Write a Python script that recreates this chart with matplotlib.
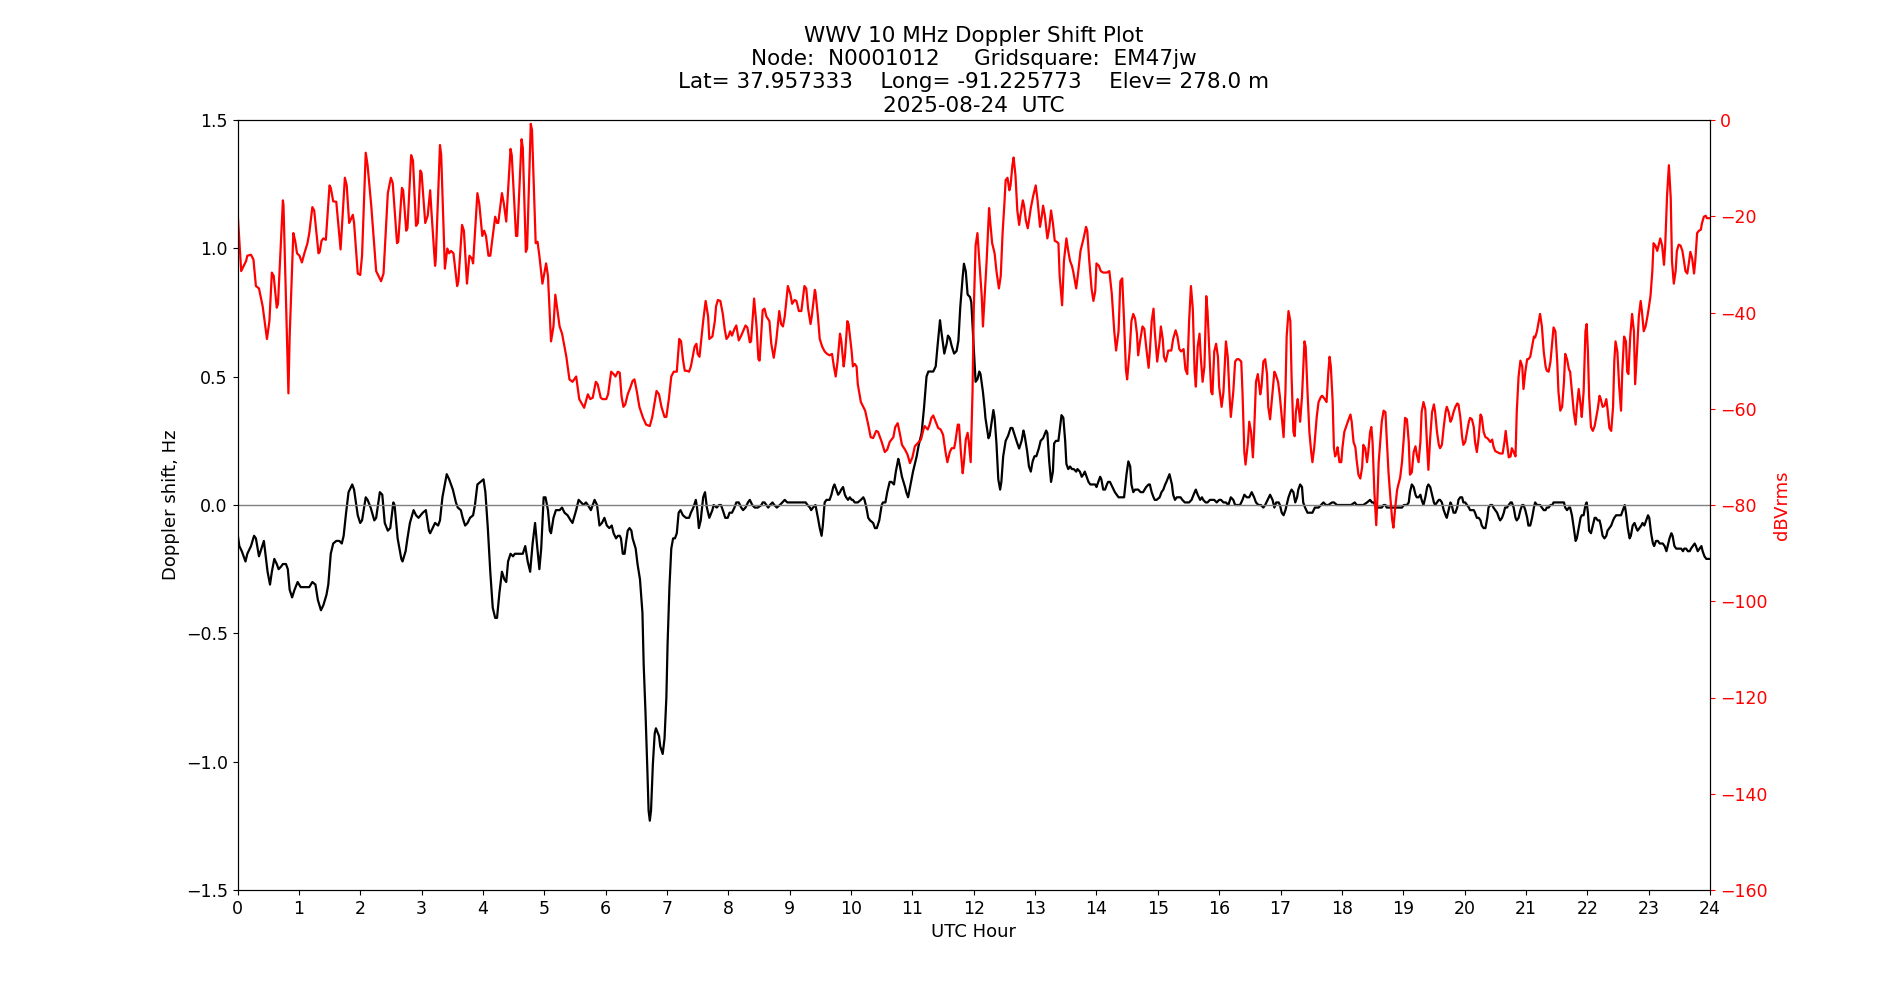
import numpy as np
import matplotlib
matplotlib.use("Agg")
import matplotlib.pyplot as plt

# Doppler shift (Hz) vs UTC hour
dop_hours = [
    0.00, 0.03, 0.07, 0.13, 0.16, 0.22, 0.27, 0.30, 0.35, 0.39, 0.43, 0.45, 0.49, 0.53, 0.56, 0.60, 0.64, 0.67, 0.71, 0.74,
    0.79, 0.82, 0.85, 0.89, 0.93, 0.98, 1.03, 1.12, 1.17, 1.22, 1.27, 1.31, 1.36, 1.40, 1.45, 1.48, 1.52, 1.56, 1.61, 1.66,
    1.70, 1.73, 1.77, 1.81, 1.87, 1.90, 1.96, 2.00, 2.03, 2.09, 2.12, 2.17, 2.23, 2.26, 2.32, 2.36, 2.40, 2.45, 2.49, 2.54,
    2.56, 2.61, 2.67, 2.69, 2.74, 2.77, 2.81, 2.87, 2.91, 2.95, 3.02, 3.07, 3.12,
    3.14, 3.18, 3.22, 3.27, 3.30, 3.34, 3.41, 3.45, 3.51, 3.56, 3.59, 3.64, 3.67, 3.71, 3.75, 3.79, 3.84, 3.87, 3.91, 3.96,
    4.01, 4.04, 4.08, 4.12, 4.16, 4.20, 4.23, 4.27, 4.31, 4.35, 4.38, 4.41, 4.45, 4.49, 4.52, 4.57, 4.61, 4.65, 4.69, 4.73,
    4.77, 4.81, 4.85, 4.88, 4.92, 4.95, 4.99, 5.02, 5.06, 5.09, 5.11, 5.15, 5.19, 5.25, 5.29, 5.33, 5.38, 5.43, 5.46, 5.52,
    5.56, 5.60, 5.64, 5.68, 5.71, 5.76, 5.82, 5.86, 5.90, 5.94, 5.98, 6.02, 6.06, 6.10, 6.13,
    6.17, 6.20, 6.23, 6.25, 6.28, 6.31, 6.33, 6.36, 6.39, 6.42, 6.44, 6.49, 6.52, 6.56, 6.60, 6.62, 6.65, 6.68, 6.70, 6.72,
    6.74, 6.77, 6.80, 6.82, 6.87, 6.89, 6.93, 6.96, 6.99, 7.01, 7.04, 7.07, 7.10, 7.13, 7.16, 7.19, 7.22, 7.26, 7.31, 7.36,
    7.39, 7.43, 7.47, 7.49, 7.52, 7.55, 7.59, 7.62, 7.65, 7.69, 7.74, 7.76, 7.81, 7.85, 7.88, 7.91, 7.95, 7.99, 8.02, 8.06,
    8.10, 8.13, 8.17, 8.21, 8.24, 8.28, 8.32, 8.35, 8.39, 8.43, 8.48, 8.54, 8.56, 8.59, 8.65, 8.68, 8.72, 8.75, 8.79, 8.84,
    8.88, 8.92, 8.96, 9.00, 9.04, 9.08, 9.11, 9.15,
    9.18, 9.22, 9.26, 9.29, 9.33, 9.35, 9.38, 9.42, 9.46, 9.49, 9.52, 9.54, 9.57, 9.60, 9.63, 9.65, 9.68, 9.71, 9.73, 9.76,
    9.79, 9.82, 9.84, 9.87, 9.90, 9.92, 9.95, 9.98, 10.01, 10.03, 10.06, 10.11, 10.16, 10.20, 10.22, 10.25, 10.28, 10.31,
    10.36, 10.39, 10.42, 10.46, 10.50, 10.52, 10.56, 10.59, 10.63, 10.66, 10.70, 10.73, 10.77, 10.79, 10.83, 10.88, 10.90,
    10.93, 10.97, 11.01, 11.07, 11.10, 11.15, 11.19, 11.23, 11.26, 11.30, 11.34, 11.38, 11.41, 11.45, 11.47, 11.52, 11.56,
    11.58, 11.61, 11.64, 11.68, 11.72, 11.75, 11.78, 11.82, 11.84, 11.87, 11.90, 11.94, 11.96, 11.99, 12.03, 12.06, 12.09,
    12.11, 12.15, 12.18,
    12.19, 12.24, 12.26, 12.29, 12.32, 12.34, 12.37, 12.40, 12.43, 12.45, 12.48, 12.52, 12.56, 12.60, 12.63, 12.67, 12.71,
    12.74, 12.78, 12.81, 12.83, 12.87, 12.90, 12.93, 12.96, 12.99, 13.02, 13.06, 13.09, 13.13, 13.18, 13.20, 13.23, 13.26,
    13.29, 13.31, 13.34, 13.38, 13.40, 13.43, 13.46, 13.49, 13.51, 13.54, 13.57, 13.60, 13.63, 13.67, 13.69, 13.73, 13.76,
    13.79, 13.81, 13.84, 13.87, 13.90, 13.94, 13.98, 14.00, 14.03, 14.06, 14.08, 14.11, 14.14, 14.17, 14.19, 14.22, 14.26,
    14.30, 14.33, 14.36, 14.38, 14.43, 14.45, 14.49, 14.52, 14.55, 14.57, 14.60, 14.63, 14.66, 14.68, 14.72, 14.76, 14.81,
    14.85, 14.87, 14.90, 14.93, 14.95, 14.98, 15.03, 15.06, 15.09, 15.12, 15.14, 15.19,
    15.23, 15.25, 15.28, 15.31, 15.35, 15.37, 15.40, 15.44, 15.48, 15.51, 15.55, 15.60, 15.62, 15.65, 15.69, 15.72, 15.74,
    15.78, 15.81, 15.85, 15.89, 15.92, 15.96, 16.00, 16.03, 16.07, 16.11, 16.15, 16.19, 16.23, 16.26, 16.30, 16.34, 16.38,
    16.41, 16.45, 16.49, 16.53, 16.57, 16.60, 16.64, 16.68, 16.72, 16.75, 16.79, 16.83, 16.87, 16.90, 16.93, 16.97, 16.99,
    17.02, 17.05, 17.08, 17.10, 17.13, 17.16, 17.18, 17.21, 17.24, 17.27, 17.29, 17.32, 17.35, 17.37, 17.40, 17.44, 17.48,
    17.52, 17.56, 17.62, 17.66, 17.70, 17.74, 17.78, 17.84, 17.87, 17.92, 17.96, 18.00, 18.04, 18.10, 18.15, 18.21,
    18.24, 18.30, 18.33, 18.35, 18.41, 18.46, 18.49, 18.52, 18.54, 18.57, 18.60, 18.63, 18.65, 18.68, 18.71, 18.73, 18.79,
    18.84, 18.90, 18.95, 18.98, 19.01, 19.06, 19.09, 19.11, 19.14, 19.17, 19.20, 19.22, 19.25, 19.28, 19.30, 19.33, 19.36,
    19.39, 19.41, 19.44, 19.47, 19.50, 19.52, 19.55, 19.58, 19.60, 19.63, 19.66, 19.69, 19.71, 19.74, 19.77, 19.79, 19.82,
    19.85, 19.88, 19.90, 19.93, 19.96, 19.98, 20.01, 20.04, 20.07, 20.09, 20.12, 20.15, 20.17, 20.20, 20.23, 20.26, 20.28,
    20.31, 20.34, 20.37, 20.39, 20.42, 20.45, 20.47, 20.50, 20.53, 20.56, 20.58, 20.61, 20.64, 20.66, 20.69, 20.72, 20.75,
    20.77, 20.80, 20.83, 20.85, 20.88, 20.91, 20.94, 20.96, 20.99, 21.02, 21.04, 21.07, 21.10, 21.13, 21.15, 21.18, 21.21,
    21.23,
    21.26, 21.29, 21.32, 21.34, 21.37, 21.40, 21.43, 21.45, 21.48, 21.53, 21.59, 21.62, 21.64, 21.67, 21.70, 21.72, 21.75,
    21.78, 21.81, 21.83, 21.86, 21.89, 21.91, 21.94, 21.97, 21.99, 22.01, 22.03, 22.06, 22.09, 22.12, 22.14, 22.17, 22.20,
    22.22, 22.25, 22.28, 22.31, 22.33, 22.36, 22.39, 22.42, 22.44, 22.47, 22.50, 22.52, 22.55, 22.58, 22.61, 22.63, 22.66,
    22.69, 22.71, 22.74, 22.77, 22.80, 22.82, 22.85, 22.88, 22.90, 22.93, 22.96, 22.99, 23.01, 23.04, 23.07, 23.09, 23.12,
    23.15, 23.18, 23.20, 23.23, 23.26, 23.29, 23.31, 23.34, 23.37, 23.39, 23.42, 23.45, 23.48, 23.50, 23.53, 23.56, 23.58,
    23.61, 23.64, 23.67, 23.69, 23.72, 23.75, 23.77, 23.80, 23.83, 23.86, 23.88, 23.91, 23.94, 23.96, 24.00,
]
dop_hz = [
    -0.11, -0.16, -0.18, -0.22, -0.19, -0.16, -0.12, -0.13, -0.20, -0.17, -0.14, -0.18, -0.26, -0.31, -0.26, -0.21, -0.23,
    -0.25, -0.24, -0.23, -0.23, -0.25, -0.33, -0.36, -0.33, -0.30, -0.32, -0.32, -0.32, -0.30, -0.31, -0.37, -0.41, -0.39,
    -0.35, -0.31, -0.19, -0.15, -0.14, -0.14, -0.15, -0.12, -0.03, 0.05, 0.08, 0.06, -0.04, -0.07, -0.06, 0.03, 0.02, -0.01,
    -0.06, -0.05, 0.05, 0.04, -0.07, -0.10, -0.09, 0.01, 0.00, -0.13, -0.21, -0.22, -0.18, -0.13, -0.07, -0.02, -0.04, -0.05,
    -0.03, -0.02, -0.10,
    -0.11, -0.09, -0.07, -0.08, -0.06, 0.03, 0.12, 0.10, 0.06, 0.01, -0.01, -0.02, -0.05, -0.08, -0.07, -0.05, -0.04, 0.00,
    0.08, 0.09, 0.10, 0.05, -0.09, -0.26, -0.40, -0.44, -0.44, -0.34, -0.26, -0.29, -0.30, -0.22, -0.19, -0.20, -0.19, -0.19,
    -0.19, -0.19, -0.16, -0.22, -0.26, -0.15, -0.07, -0.15, -0.25, -0.17, 0.03, 0.03, -0.02, -0.10, -0.11, -0.05, -0.02,
    -0.02, -0.01, -0.03, -0.04, -0.06, -0.07, -0.02, 0.02, 0.01, 0.00, 0.01, 0.00, -0.02, 0.02, 0.00, -0.08, -0.07, -0.05,
    -0.08, -0.09, -0.08, -0.11,
    -0.13, -0.12, -0.12, -0.13, -0.19, -0.19, -0.15, -0.10, -0.09, -0.10, -0.13, -0.17, -0.23, -0.29, -0.42, -0.62, -0.81,
    -1.03, -1.19, -1.23, -1.19, -1.01, -0.89, -0.87, -0.90, -0.94, -0.97, -0.91, -0.75, -0.54, -0.32, -0.17, -0.13, -0.13,
    -0.11, -0.03, -0.02, -0.04, -0.05, -0.05, -0.03, -0.01, 0.02, -0.01, -0.09, -0.06, 0.03, 0.05, -0.01, -0.05, -0.02, 0.00,
    -0.01, 0.00, 0.00, -0.02, -0.05, -0.05, -0.03, -0.03, -0.01, 0.01, 0.01, -0.01, -0.02, -0.01, 0.01, 0.02, 0.00, -0.01,
    -0.01, 0.00, 0.01, 0.01, -0.01, 0.00, 0.01, 0.00, -0.01, 0.00, 0.01, 0.02, 0.01, 0.01, 0.01, 0.01, 0.01, 0.01,
    0.01, 0.01, 0.01, 0.00, -0.01, -0.02, -0.01, 0.00, -0.05, -0.09, -0.12, -0.08, 0.01, 0.02, 0.02, 0.02, 0.04, 0.07, 0.08,
    0.06, 0.04, 0.05, 0.06, 0.07, 0.04, 0.03, 0.02, 0.03, 0.02, 0.02, 0.01, 0.01, 0.02, 0.03, 0.02, -0.01, -0.05, -0.06,
    -0.07, -0.09, -0.09, -0.06, 0.00, 0.01, 0.01, 0.05, 0.09, 0.09, 0.08, 0.13, 0.18, 0.16, 0.11, 0.07, 0.05, 0.03, 0.08,
    0.13, 0.19, 0.23, 0.28, 0.38, 0.50, 0.52, 0.52, 0.52, 0.54, 0.62, 0.72, 0.68, 0.59, 0.63, 0.66, 0.65, 0.62, 0.59, 0.60,
    0.64, 0.77, 0.89, 0.94, 0.91, 0.82, 0.81, 0.79, 0.66, 0.48, 0.49, 0.52, 0.51, 0.44, 0.37,
    0.34, 0.26, 0.27, 0.32, 0.37, 0.34, 0.24, 0.10, 0.06, 0.09, 0.19, 0.25, 0.27, 0.30, 0.30, 0.27, 0.24, 0.22, 0.25, 0.29,
    0.27, 0.21, 0.15, 0.13, 0.17, 0.19, 0.19, 0.22, 0.25, 0.26, 0.29, 0.28, 0.17, 0.09, 0.13, 0.24, 0.25, 0.25, 0.29, 0.35,
    0.34, 0.25, 0.16, 0.14, 0.15, 0.14, 0.14, 0.13, 0.14, 0.13, 0.11, 0.12, 0.13, 0.11, 0.09, 0.08, 0.08, 0.08, 0.07, 0.09,
    0.11, 0.10, 0.06, 0.06, 0.08, 0.09, 0.09, 0.07, 0.05, 0.04, 0.03, 0.03, 0.03, 0.03, 0.12, 0.17, 0.15, 0.08, 0.05, 0.06,
    0.06, 0.06, 0.05, 0.05, 0.07, 0.08, 0.08, 0.05, 0.03, 0.02, 0.02, 0.03, 0.05, 0.06, 0.08, 0.09, 0.12,
    0.08, 0.04, 0.02, 0.03, 0.03, 0.03, 0.02, 0.01, 0.01, 0.01, 0.02, 0.05, 0.06, 0.04, 0.02, 0.03, 0.02, 0.01, 0.01, 0.02,
    0.02, 0.02, 0.01, 0.02, 0.02, 0.01, 0.01, 0.00, 0.03, 0.02, 0.00, 0.00, 0.00, 0.02, 0.04, 0.03, 0.03, 0.05, 0.03, 0.01,
    0.00, 0.00, -0.01, 0.00, 0.02, 0.04, 0.02, -0.01, 0.01, 0.01, 0.00, -0.03, -0.04, -0.02, 0.00, 0.03, 0.05, 0.06, 0.05,
    0.01, 0.03, 0.06, 0.08, 0.07, 0.01, -0.01, -0.03, -0.03, -0.03, -0.01, -0.01, 0.00, 0.01, 0.00, 0.00, 0.01, 0.01, 0.00,
    0.00, 0.00, 0.00, 0.00, 0.00, 0.01,
    0.00, 0.00, 0.00, 0.00, 0.01, 0.02, 0.01, 0.01, 0.00, -0.01, -0.01, -0.01, -0.01, 0.00, 0.00, -0.01, -0.01, -0.01, -0.01,
    -0.01, -0.01, 0.00, 0.00, 0.01, 0.05, 0.08, 0.07, 0.04, 0.03, 0.03, 0.04, 0.02, 0.00, 0.03, 0.07, 0.08, 0.07, 0.04, 0.01,
    0.00, 0.01, 0.02, 0.02, 0.01, -0.02, -0.04, -0.05, -0.02, 0.01, 0.00, -0.03, -0.03, -0.01, 0.02, 0.03, 0.03, 0.01, 0.01,
    0.00, -0.01, -0.02, -0.02, -0.02, -0.03, -0.05, -0.05, -0.06, -0.08, -0.09, -0.09, -0.05, -0.01, 0.00, 0.00, -0.01,
    -0.02, -0.03, -0.05, -0.06, -0.05, -0.03, -0.01, -0.01, 0.00, 0.01, 0.01, -0.01, -0.05, -0.06, -0.05, -0.02, 0.00, 0.00,
    -0.02, -0.05, -0.08, -0.08, -0.05, -0.01, 0.01, 0.00, 0.00, 0.00,
    -0.01, -0.02, -0.02, -0.01, -0.01, 0.00, 0.00, 0.01, 0.01, 0.01, 0.01, 0.01, -0.01, -0.02, -0.01, -0.01, -0.04, -0.09,
    -0.14, -0.13, -0.09, -0.05, -0.04, -0.04, 0.00, 0.01, -0.03, -0.10, -0.11, -0.08, -0.05, -0.05, -0.06, -0.06, -0.08,
    -0.12, -0.13, -0.12, -0.10, -0.09, -0.08, -0.06, -0.05, -0.04, -0.04, -0.04, -0.04, -0.02, 0.00, -0.03, -0.09, -0.13,
    -0.12, -0.08, -0.07, -0.09, -0.10, -0.09, -0.08, -0.07, -0.08, -0.06, -0.04, -0.05, -0.11, -0.15, -0.16, -0.14, -0.14,
    -0.15, -0.15, -0.15, -0.16, -0.18, -0.16, -0.13, -0.11, -0.12, -0.16, -0.17, -0.17, -0.17, -0.17, -0.18, -0.17, -0.17,
    -0.18, -0.18, -0.17, -0.16, -0.15, -0.16, -0.18, -0.17, -0.16, -0.18, -0.20, -0.21, -0.21, -0.21,
]

# Received level (dBVrms) vs UTC hour
pwr_hours = [
    0.00, 0.06, 0.14, 0.16, 0.22, 0.26, 0.30, 0.35, 0.41, 0.48, 0.52, 0.56, 0.59, 0.64, 0.66, 0.74, 0.75, 0.83, 0.85, 0.91,
    0.94, 0.97, 1.01, 1.05, 1.09, 1.14, 1.17, 1.22, 1.25, 1.32, 1.34, 1.37, 1.40, 1.44, 1.50, 1.52, 1.56, 1.61, 1.68, 1.75,
    1.78, 1.82, 1.88, 1.90, 1.96, 2.00, 2.03, 2.09, 2.12, 2.18, 2.26, 2.34, 2.38, 2.45, 2.50, 2.53, 2.60, 2.62, 2.68, 2.70,
    2.75, 2.77, 2.83, 2.86, 2.91, 2.94, 2.98, 3.00, 3.06, 3.10,
    3.14, 3.16, 3.22, 3.23, 3.30, 3.32, 3.38, 3.42, 3.45, 3.48, 3.52, 3.58, 3.60, 3.66, 3.69, 3.74, 3.78, 3.82, 3.84, 3.91,
    3.94, 3.99, 4.02, 4.05, 4.09, 4.12, 4.16, 4.20, 4.23, 4.25, 4.31, 4.34, 4.38, 4.45, 4.47, 4.54, 4.56, 4.63, 4.65, 4.70,
    4.72, 4.78, 4.80, 4.86, 4.89, 4.92, 4.97, 5.03, 5.06, 5.11, 5.15, 5.18, 5.21, 5.25, 5.29, 5.36, 5.41, 5.46, 5.52, 5.57,
    5.65, 5.71, 5.75, 5.79, 5.84, 5.87, 5.92, 5.95, 6.01, 6.04, 6.09, 6.13,
    6.16, 6.20, 6.23, 6.26, 6.29, 6.32, 6.36, 6.40, 6.44, 6.47, 6.51, 6.55, 6.61, 6.66, 6.72, 6.76, 6.80, 6.83, 6.87, 6.91,
    6.96, 6.99, 7.03, 7.07, 7.11, 7.16, 7.20, 7.23, 7.26, 7.29, 7.32, 7.36, 7.39, 7.45, 7.48, 7.50, 7.53, 7.59, 7.63, 7.67,
    7.69, 7.74, 7.78, 7.80, 7.83, 7.87, 7.91, 7.94, 7.97, 8.00, 8.03, 8.06, 8.10, 8.13, 8.17, 8.21, 8.24, 8.28, 8.31, 8.35,
    8.37, 8.42, 8.46, 8.49, 8.51, 8.56, 8.59, 8.62, 8.67, 8.70, 8.74, 8.78, 8.83, 8.86, 8.89, 8.92, 8.97, 9.01, 9.04, 9.08,
    9.11, 9.15,
    9.19, 9.22, 9.24, 9.27, 9.30, 9.34, 9.36, 9.41, 9.42, 9.46, 9.49, 9.53, 9.57, 9.61, 9.65, 9.69, 9.72, 9.75, 9.78, 9.82,
    9.84, 9.88, 9.90, 9.94, 9.96, 10.01, 10.03, 10.06, 10.09, 10.11, 10.16, 10.20, 10.23, 10.28, 10.32, 10.36, 10.41, 10.44,
    10.50, 10.55, 10.59, 10.63, 10.69, 10.72, 10.76, 10.79, 10.83, 10.88, 10.92, 10.96, 11.00, 11.04, 11.09, 11.14, 11.18,
    11.20, 11.25, 11.28, 11.31, 11.34, 11.38, 11.42, 11.46, 11.50, 11.54, 11.57, 11.61, 11.64, 11.68, 11.70, 11.74, 11.76,
    11.79, 11.82, 11.84, 11.87, 11.90, 11.92, 11.95, 11.98, 12.00, 12.03, 12.06, 12.08, 12.13, 12.15,
    12.21, 12.25, 12.27, 12.30, 12.34, 12.37, 12.41, 12.44, 12.47, 12.50, 12.52, 12.55, 12.58, 12.60, 12.63, 12.65, 12.68,
    12.71, 12.74, 12.76, 12.80, 12.82, 12.85, 12.88, 12.90, 12.93, 12.97, 13.01, 13.04, 13.08, 13.11, 13.13, 13.16, 13.20,
    13.23, 13.26, 13.29, 13.32, 13.35, 13.38, 13.40, 13.44, 13.47, 13.51, 13.54, 13.57, 13.60, 13.62, 13.67, 13.70, 13.74,
    13.79, 13.83, 13.85, 13.88, 13.92, 13.95, 13.98, 14.00, 14.04, 14.07, 14.11, 14.17, 14.21, 14.25, 14.29, 14.32, 14.36,
    14.39, 14.42, 14.45, 14.48, 14.50, 14.54, 14.57, 14.60, 14.63, 14.66, 14.68, 14.71, 14.75, 14.78, 14.81, 14.85, 14.87,
    14.90, 14.93, 14.95, 14.99, 15.03, 15.05, 15.08, 15.10, 15.13, 15.17, 15.20,
    15.22, 15.25, 15.29, 15.32, 15.35, 15.38, 15.42, 15.45, 15.48, 15.51, 15.54, 15.57, 15.60, 15.62, 15.65, 15.68, 15.70,
    15.73, 15.76, 15.79, 15.81, 15.84, 15.87, 15.89, 15.92, 15.95, 15.98, 16.00, 16.04, 16.07, 16.11, 16.14, 16.17, 16.19,
    16.23, 16.26, 16.29, 16.32, 16.36, 16.38, 16.41, 16.43, 16.47, 16.49, 16.52, 16.55, 16.57, 16.60, 16.63, 16.67, 16.69,
    16.72, 16.75, 16.78, 16.80, 16.83, 16.87, 16.90, 16.92, 16.96, 16.99, 17.02, 17.05, 17.08, 17.10, 17.13, 17.16, 17.18,
    17.21, 17.23, 17.25, 17.28, 17.29, 17.32, 17.35, 17.39, 17.41, 17.44, 17.47, 17.50, 17.52, 17.55, 17.59, 17.62, 17.66,
    17.68, 17.72, 17.75, 17.78, 17.80, 17.82, 17.85, 17.87, 17.89, 17.92, 17.93, 17.96, 17.99, 18.01, 18.04, 18.08, 18.11,
    18.14, 18.16, 18.19, 18.22,
    18.24, 18.27, 18.30, 18.33, 18.35, 18.38, 18.41, 18.43, 18.46, 18.48, 18.50, 18.53, 18.56, 18.58, 18.60, 18.63, 18.65,
    18.68, 18.71, 18.73, 18.76, 18.79, 18.82, 18.84, 18.87, 18.90, 18.92, 18.95, 18.98, 19.01, 19.03, 19.06, 19.09, 19.11,
    19.14, 19.17, 19.20, 19.22, 19.25, 19.28, 19.30, 19.33, 19.36, 19.39, 19.41, 19.44, 19.47, 19.50, 19.52, 19.55, 19.58,
    19.60, 19.63, 19.66, 19.69, 19.71, 19.74, 19.77, 19.79, 19.82, 19.85, 19.88, 19.90, 19.93, 19.96, 19.98, 20.01, 20.04,
    20.07, 20.09, 20.12, 20.15, 20.17, 20.20, 20.23, 20.26, 20.28, 20.31, 20.34, 20.37, 20.39, 20.42, 20.45, 20.47, 20.50,
    20.53, 20.56, 20.58, 20.62, 20.65, 20.67, 20.69, 20.72, 20.75, 20.77, 20.80, 20.83, 20.85, 20.88, 20.91, 20.94, 20.96,
    20.99, 21.02, 21.04, 21.07, 21.10, 21.13, 21.15, 21.18, 21.21, 21.23,
    21.26, 21.29, 21.32, 21.34, 21.37, 21.40, 21.43, 21.45, 21.48, 21.51, 21.53, 21.56, 21.59, 21.62, 21.64, 21.67, 21.70,
    21.72, 21.75, 21.78, 21.81, 21.83, 21.86, 21.89, 21.91, 21.94, 21.97, 21.99, 22.01, 22.03, 22.06, 22.09, 22.12, 22.14,
    22.17, 22.20, 22.22, 22.25, 22.28, 22.31, 22.33, 22.36, 22.39, 22.42, 22.44, 22.46, 22.49, 22.52, 22.55, 22.57, 22.60,
    22.63, 22.65, 22.67, 22.70, 22.73, 22.76, 22.78, 22.81, 22.84, 22.87, 22.89, 22.92, 22.95, 22.98, 23.00, 23.03, 23.06,
    23.08, 23.11, 23.14, 23.17, 23.19, 23.22, 23.25, 23.27, 23.30, 23.33, 23.36, 23.38, 23.41, 23.44, 23.46, 23.49, 23.52,
    23.55, 23.57, 23.60, 23.63, 23.66, 23.68, 23.71, 23.74, 23.76, 23.79, 23.82, 23.85, 23.87, 23.90, 23.93, 23.95, 23.98,
    24.00,
]
pwr_db = [
    -18.8, -31.4, -29.3, -28.2, -28.0, -29.0, -34.5, -35.0, -38.7, -45.5, -41.8, -31.7, -32.4, -39.0, -38.2, -16.7, -17.8,
    -56.8, -45.0, -23.5, -25.1, -27.7, -28.2, -29.6, -27.7, -25.6, -23.5, -18.1, -18.8, -27.7, -27.4, -25.1, -24.6, -24.9,
    -13.6, -14.1, -16.9, -17.0, -26.9, -12.0, -13.6, -21.4, -19.7, -21.4, -31.9, -32.2, -28.2, -6.8, -9.4, -17.8, -31.4,
    -33.5, -31.9, -15.2, -12.0, -13.1, -25.6, -25.3, -14.1, -14.6, -23.0, -22.5, -7.3, -8.4, -22.0, -21.4, -10.5, -11.0,
    -21.4, -19.9,
    -14.6, -18.8, -30.3, -29.3, -5.2, -7.3, -30.9, -26.7, -27.7, -27.2, -27.7, -34.5, -33.5, -21.8, -23.0, -34.0, -28.2,
    -28.8, -29.8, -15.2, -17.3, -24.1, -23.0, -24.1, -28.2, -28.2, -24.1, -20.1, -21.4, -21.4, -15.2, -17.3, -21.1, -6.0,
    -7.3, -24.1, -24.1, -4.0, -5.8, -27.4, -26.7, -0.8, -2.1, -25.6, -25.3, -28.2, -34.0, -29.8, -32.4, -46.0, -42.9, -36.3,
    -39.2, -42.9, -44.4, -49.2, -53.9, -54.4, -53.3, -58.0, -59.8, -57.0, -58.0, -57.7, -54.4, -54.9, -57.7, -58.0, -58.0,
    -57.0, -52.3, -52.8,
    -53.3, -52.3, -52.5, -57.5, -59.6, -59.1, -57.0, -55.7, -54.2, -53.9, -56.5, -59.6, -61.9, -63.3, -63.6, -61.7, -58.6,
    -56.3, -57.0, -59.6, -61.7, -61.7, -58.0, -53.3, -52.3, -52.3, -45.5, -46.0, -49.7, -52.1, -52.1, -52.3, -51.2, -47.1,
    -46.5, -48.6, -49.2, -41.8, -37.6, -40.8, -45.5, -45.0, -41.8, -38.7, -37.4, -37.6, -40.3, -43.4, -45.5, -45.0, -43.9,
    -44.8, -43.4, -42.7, -45.8, -44.8, -43.9, -42.7, -43.1, -46.2, -46.0, -37.1, -42.9, -49.7, -50.0, -39.5, -39.2, -40.8,
    -41.8, -46.5, -49.4, -46.0, -39.7, -42.4, -42.9, -40.8, -34.5, -36.1, -38.2, -37.4, -37.6, -39.7,
    -39.7, -36.6, -34.5, -35.0, -39.2, -42.4, -40.8, -35.3, -35.8, -40.8, -45.5, -47.1, -48.1, -48.6, -48.9, -48.6, -51.2,
    -53.3, -50.2, -44.4, -45.8, -51.2, -49.2, -41.8, -42.4, -48.1, -51.2, -50.7, -51.2, -54.9, -58.6, -59.6, -60.4, -63.3,
    -65.9, -66.1, -64.6, -64.8, -66.9, -69.0, -68.5, -66.9, -65.9, -63.8, -63.0, -64.8, -67.5, -68.5, -69.5, -71.3, -70.1,
    -67.8, -67.1, -66.4, -64.3, -63.6, -64.3, -63.3, -61.9, -61.4, -62.7, -64.0, -64.3, -65.4, -69.0, -71.1, -69.0, -68.2,
    -68.2, -66.9, -63.3, -63.3, -69.0, -73.4, -71.1, -66.4, -65.0, -66.9, -71.1, -56.5, -39.7, -26.1, -23.5, -27.2, -36.6,
    -42.9,
    -29.3, -18.3, -21.4, -25.6, -27.7, -31.4, -35.0, -32.4, -23.5, -17.3, -12.5, -12.0, -14.6, -13.6, -9.4, -7.8, -11.5,
    -18.8, -21.8, -19.9, -16.7, -17.8, -20.9, -22.5, -20.9, -18.3, -15.7, -13.6, -16.7, -22.2, -19.9, -17.8, -19.9, -24.6,
    -22.5, -18.8, -21.4, -25.1, -25.3, -25.6, -32.4, -38.5, -29.3, -24.6, -27.2, -29.3, -30.3, -31.4, -35.0, -31.9, -27.2,
    -24.6, -22.2, -23.0, -28.8, -35.0, -37.6, -35.6, -29.8, -30.3, -31.4, -31.7, -31.7, -31.4, -36.1, -43.9, -47.9, -43.9,
    -33.5, -32.9, -41.8, -51.8, -53.9, -48.1, -41.8, -40.3, -41.3, -44.4, -48.9, -46.0, -42.9, -43.4, -47.1, -51.5, -48.1,
    -41.8, -39.2, -43.9, -50.2, -46.0, -42.9, -45.5, -49.2, -50.2, -47.9, -47.9,
    -47.9, -45.5, -43.7, -45.0, -47.6, -48.1, -47.6, -51.8, -52.8, -41.8, -34.5, -39.2, -52.3, -55.4, -47.1, -44.4, -49.2,
    -54.4, -51.2, -36.6, -39.7, -48.1, -56.5, -57.0, -48.1, -46.5, -49.2, -55.4, -59.6, -56.5, -46.0, -49.2, -57.5, -61.7,
    -56.5, -50.2, -49.7, -49.7, -50.2, -56.5, -69.0, -71.6, -66.9, -62.7, -64.8, -70.1, -64.8, -54.4, -52.8, -57.0, -55.4,
    -50.2, -49.7, -52.8, -59.6, -62.2, -56.5, -52.3, -52.8, -54.4, -57.5, -61.7, -65.9, -56.5, -45.0, -39.7, -41.8, -53.3,
    -64.8, -65.7, -60.7, -58.0, -59.1, -62.7, -57.5, -46.0, -47.1, -56.5, -64.8, -69.0, -71.1, -68.0, -61.7, -58.6, -57.5,
    -57.3, -58.0, -58.6, -52.3, -49.2, -51.2, -58.6, -68.0, -69.9, -69.0, -68.0, -71.1, -71.1, -68.0, -64.8, -63.3, -62.2,
    -61.2, -62.7, -66.9, -68.0,
    -70.6, -73.7, -74.5, -72.2, -67.5, -68.2, -71.1, -69.0, -64.8, -63.8, -66.9, -77.4, -84.2, -78.4, -71.1, -65.9, -62.7,
    -60.4, -60.7, -65.9, -73.2, -78.4, -83.1, -84.7, -80.5, -76.9, -75.8, -74.3, -71.1, -65.9, -61.9, -62.2, -66.9, -73.7,
    -73.2, -69.0, -67.8, -69.5, -71.1, -66.9, -60.7, -58.6, -60.1, -68.0, -72.7, -65.9, -60.7, -59.1, -60.7, -64.8, -67.5,
    -68.2, -67.5, -63.8, -60.7, -59.6, -60.7, -62.7, -62.2, -60.7, -59.6, -58.9, -59.1, -61.7, -65.9, -67.5, -66.9, -64.8,
    -62.7, -61.9, -62.2, -63.8, -66.9, -69.0, -65.9, -61.2, -61.7, -64.8, -65.9, -66.1, -66.4, -66.9, -66.4, -67.8, -68.8,
    -69.0, -69.2, -69.3, -69.3, -66.9, -64.6, -66.9, -70.1, -69.9, -68.2, -69.0, -69.9, -60.7, -53.3, -50.0, -51.2, -55.9,
    -52.3, -49.7, -49.7, -49.2, -47.1, -45.0, -45.2, -43.9, -41.8, -40.3,
    -42.9, -48.1, -51.2, -52.1, -52.3, -50.2, -46.0, -43.1, -43.9, -50.2, -56.5, -60.4, -59.6, -54.4, -48.6, -49.7, -51.8,
    -52.3, -56.5, -60.7, -63.3, -59.6, -55.9, -59.1, -61.7, -56.5, -43.9, -42.4, -48.1, -57.5, -63.8, -64.6, -63.6, -62.2,
    -60.1, -57.3, -58.0, -59.6, -59.4, -58.0, -60.1, -64.0, -64.6, -59.6, -50.2, -46.0, -48.1, -55.4, -60.4, -52.3, -45.0,
    -46.0, -52.3, -52.8, -45.0, -40.3, -43.9, -54.9, -48.1, -40.8, -37.6, -39.7, -43.9, -42.9, -40.8, -39.2, -36.6, -31.4,
    -25.6, -26.1, -27.2, -25.6, -24.6, -26.1, -30.1, -26.1, -15.7, -9.4, -16.2, -29.3, -34.0, -31.4, -27.2, -25.9, -26.1,
    -27.2, -28.8, -31.4, -31.9, -29.3, -27.4, -28.8, -31.9, -29.3, -23.5, -23.0, -22.8, -21.4, -20.1, -19.9, -20.4, -20.4,
    -20.4,
]

title_lines = [
    "WWV 10 MHz Doppler Shift Plot",
    "Node:  N0001012     Gridsquare:  EM47jw",
    "Lat= 37.957333    Long= -91.225773    Elev= 278.0 m",
    "2025-08-24  UTC",
]

fig, ax = plt.subplots(figsize=(19, 10))
ax.plot(dop_hours, dop_hz, color="black", linewidth=1.6)
ax.axhline(0, color="gray", linewidth=1)
ax.set_xlim(0, 24)
ax.set_ylim(-1.5, 1.5)
ax.set_xticks(np.arange(0, 25, 1))
ax.set_xlabel("UTC Hour", fontsize=13)
ax.set_ylabel("Doppler shift, Hz", fontsize=13)
ax.tick_params(labelsize=12.5)
ax.set_title("\n".join(title_lines), fontsize=15.5)

ax2 = ax.twinx()
ax2.plot(pwr_hours, pwr_db, color="red", linewidth=1.6)
ax2.set_ylim(-160, 0)
ax2.set_ylabel("dBVrms", color="red", fontsize=13)
ax2.tick_params(axis="y", colors="red", labelsize=12.5)

fig.savefig("out.png", dpi=100)
